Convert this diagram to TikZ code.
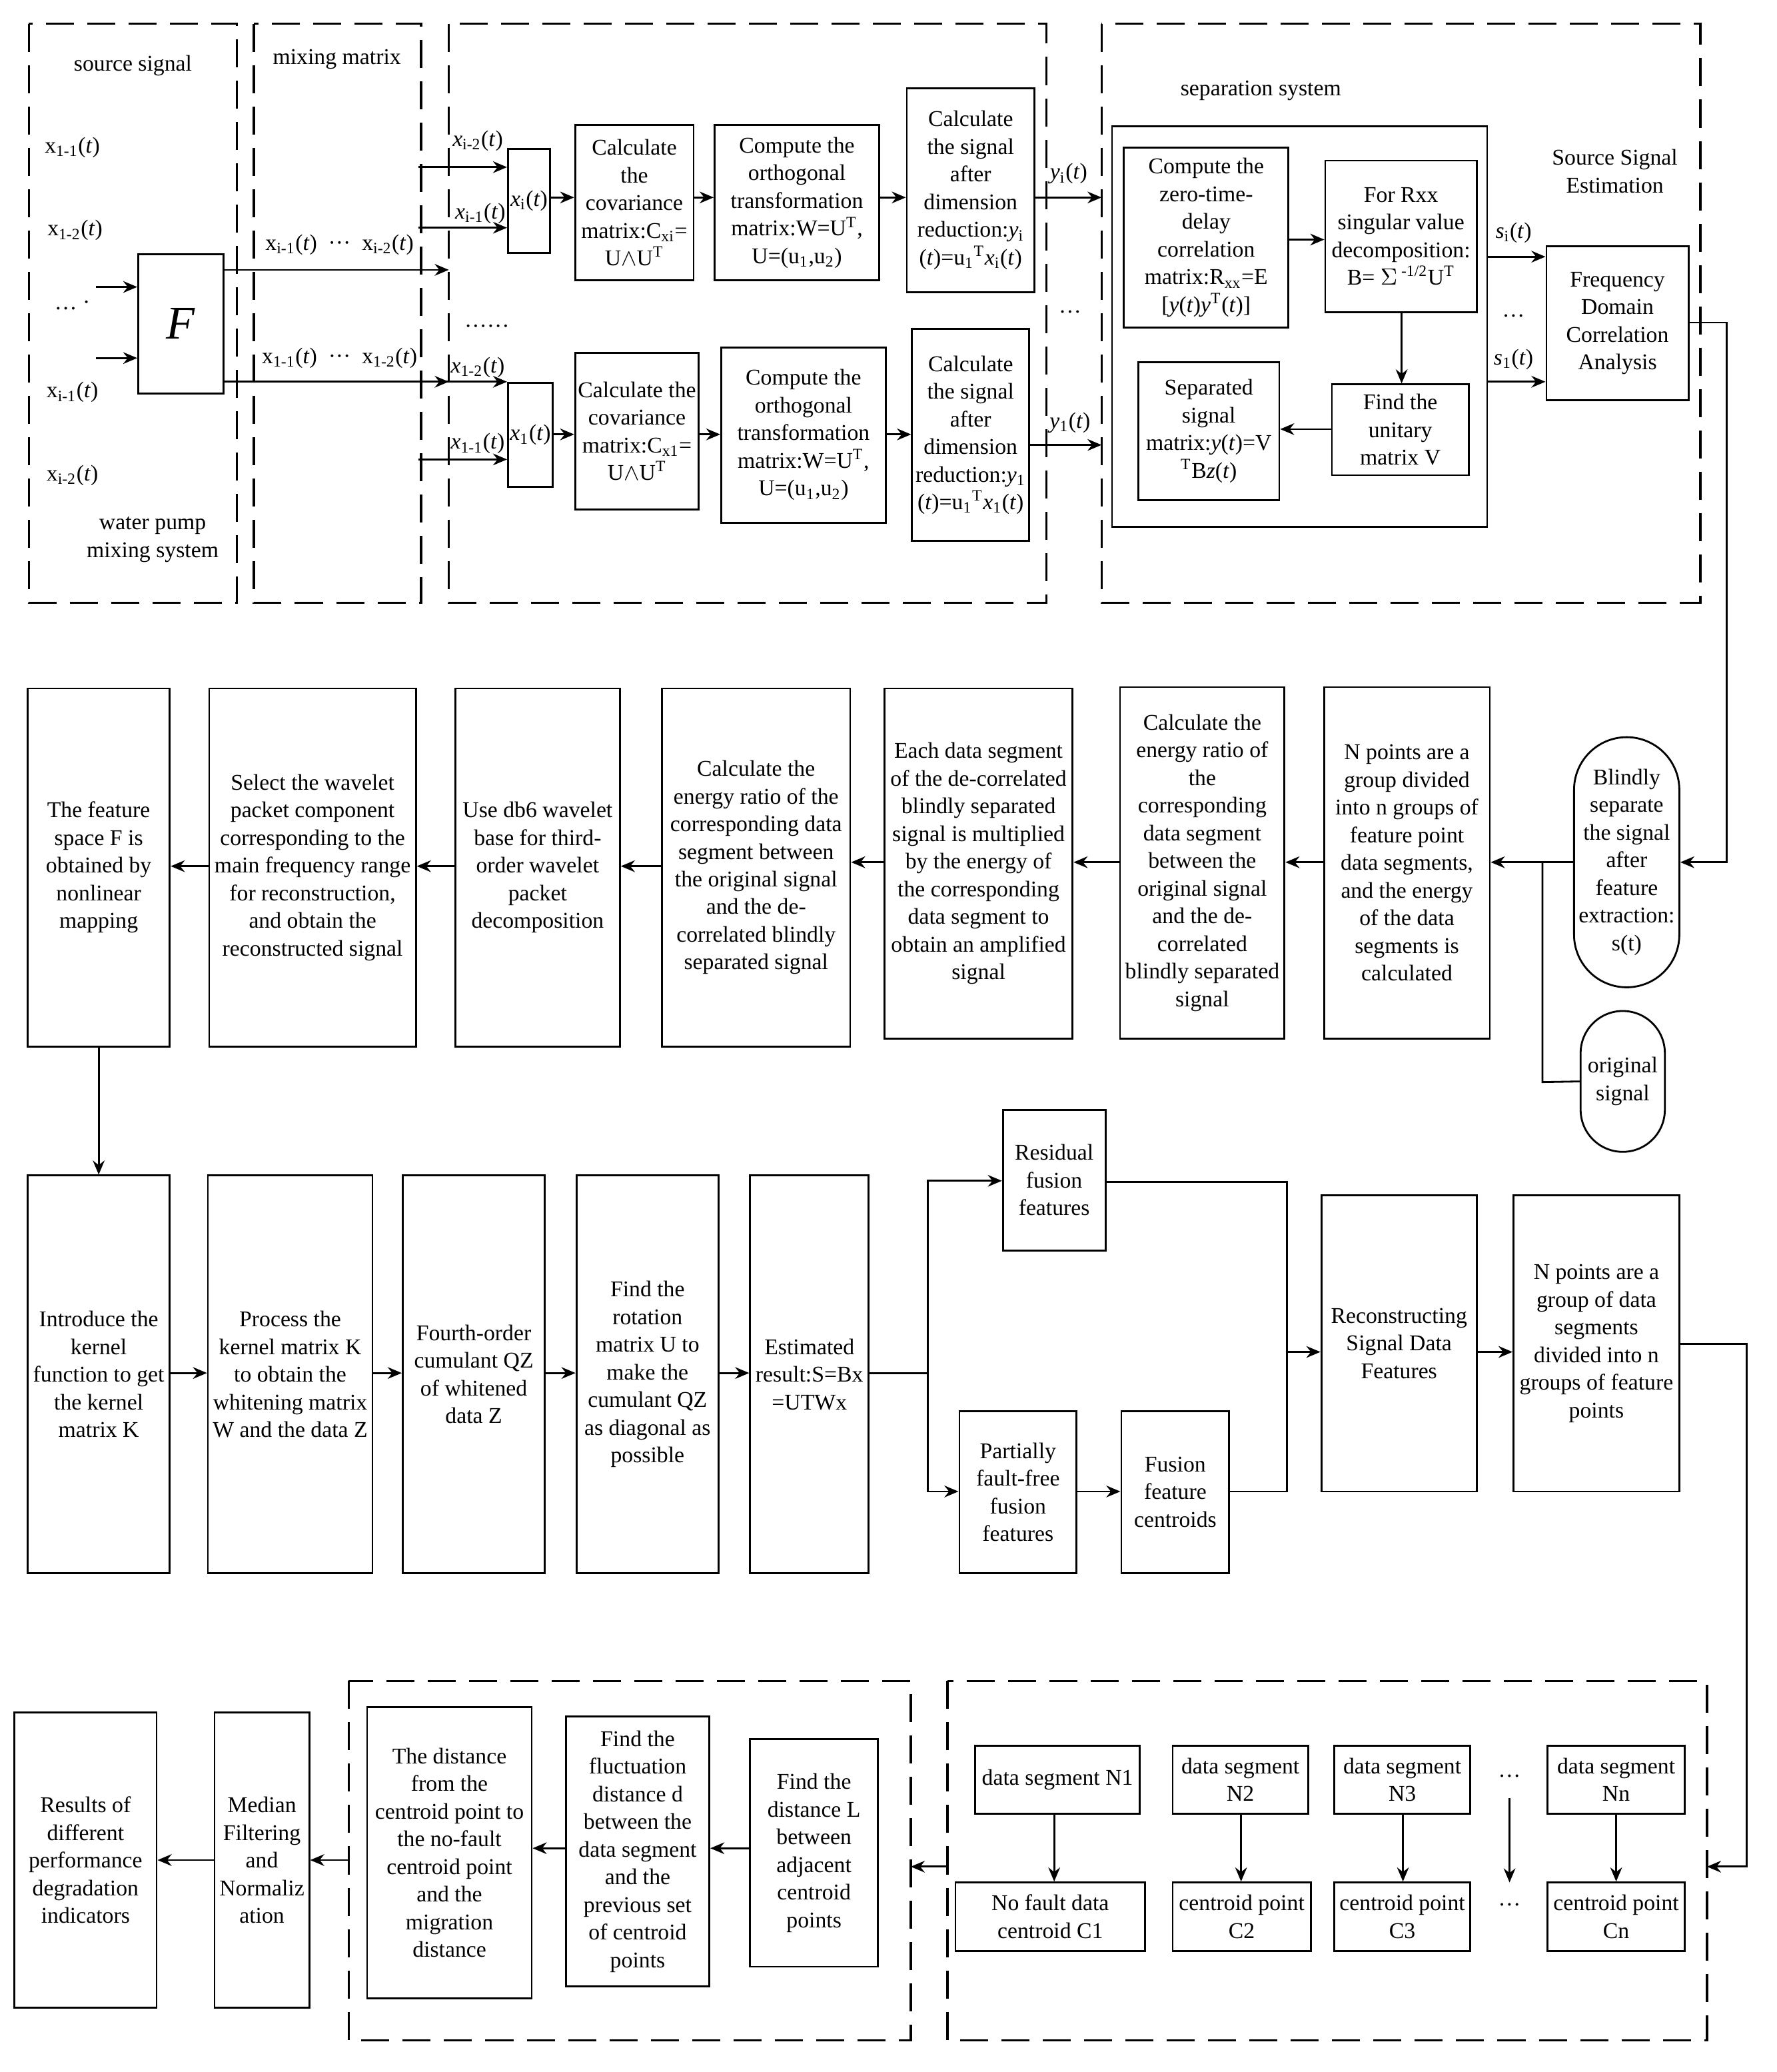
\documentclass[tikz,border=0pt]{standalone}
\usepackage{fontspec}
\setmainfont{Liberation Serif}
\usetikzlibrary{arrows.meta}
\tikzset{
 box/.style={draw,line width=0.8pt,inner sep=0pt,align=center,font=\fontsize{9.6}{11.8}\selectfont},
 dbox/.style={draw,line width=1pt,dash pattern=on 0.42cm off 0.2cm},
 ar/.style={line width=0.8pt,-{Stealth[length=6pt,width=5pt]}},
 ln/.style={line width=0.8pt},
 lb/.style={font=\fontsize{9.6}{11.8}\selectfont,inner sep=1pt,align=center}
}
\newcommand\bx[6]{\pgfmathsetmacro\bw{(#4-#2)*0.01975}\pgfmathsetmacro\bh{(#5-#3)*0.01975}%
\node[box,minimum width=\bw cm,minimum height=\bh cm] (#1) at ({(#2+#4)/2},{(#3+#5)/2}) {#6};}
\newcommand\cp[6]{\pgfmathsetmacro\bw{(#4-#2)*0.01975}\pgfmathsetmacro\bh{(#5-#3)*0.01975}%
\node[box,minimum width=\bw cm,minimum height=\bh cm,rounded corners=\bw cm/2] (#1) at ({(#2+#4)/2},{(#3+#5)/2}) {#6};}
\newcommand\st[1]{\textsubscript{#1}}
\newcommand\su[1]{\textsuperscript{#1}}
\begin{document}
\begin{tikzpicture}[x=0.01975cm,y=-0.01975cm]
\useasboundingbox (0,0) rectangle (1350,1574);
% dashed regions
\draw[dbox] (22,18) rectangle (180,458);
\draw[dbox] (193,18) rectangle (320,458);
\draw[dbox] (341,18) rectangle (795,458);
\draw[dbox] (837,18) rectangle (1292,458);
\draw[dbox] (720,1277) rectangle (1297,1550);
\draw[dbox] (265,1277) rectangle (692,1550);
% labels top-left
\node[lb] (ss) at (101,50) {source signal};
\node[lb] (mm) at (256,45) {mixing matrix};
\node[lb] (l1) at (55,112) {x\st{1-1}(\textit{t})};
\node[lb] (l2) at (57,175) {x\st{1-2}(\textit{t})};
\node[lb] (l3) at (55,232) {… ·};
\node[lb] (l4) at (55,298) {x\st{i-1}(\textit{t})};
\node[lb] (l5) at (55,361) {x\st{i-2}(\textit{t})};
\node[lb] (wp) at (116,410) {water pump\\mixing system};
\bx{F}{105}{193}{170}{299}{\fontsize{20}{20}\selectfont\textit{F}}
\coordinate (fa) at (73,218); \coordinate (fb) at (73,272);
\draw[ar] (fa) -- (fa -| F.west);
\draw[ar] (fb) -- (fb -| F.west);
\coordinate (m1) at (341,205); \coordinate (m2) at (341,290);
\draw[ar] (F.east |- m1) -- (m1);
\draw[ar] (F.east |- m2) -- (m2);
\node[lb] (t1) at (258,186) {x\st{i-1}(\textit{t})\enspace ···\enspace x\st{i-2}(\textit{t})};
\node[lb] (t2) at (258,272) {x\st{1-1}(\textit{t})\enspace ···\enspace x\st{1-2}(\textit{t})};
% upper branch
\bx{xi}{386}{113}{418}{192}{\textit{x}\st{i}(\textit{t})}
\coordinate (a1) at (318,127); \coordinate (a2) at (318,173);
\draw[ar] (a1) -- (a1 -| xi.west);
\draw[ar] (a2) -- (a2 -| xi.west);
\node[lb] (t3) at (363,107) {\textit{x}\st{i-2}(\textit{t})};
\node[lb] (t4) at (365,162) {\textit{x}\st{i-1}(\textit{t})};
\bx{cov1}{437}{95}{527}{213}{Calculate\\the\\covariance\\matrix:C\st{xi}=\\U$\wedge$U\su{T}}
\bx{ort1}{543}{95}{668}{213}{Compute the\\orthogonal\\transformation\\matrix:W=U\su{T},\\U=(u\st{1},u\st{2})}
\bx{cal1}{689}{67}{786}{222}{Calculate\\the signal\\after\\dimension\\reduction:\textit{y}\st{i}\\(\textit{t})=u\st{1}\su{T}\textit{x}\st{i}(\textit{t})}
\draw[ar] (xi.east |- 0,150) -- (cov1.west |- 0,150);
\draw[ar] (cov1.east |- 0,150) -- (ort1.west |- 0,150);
\draw[ar] (ort1.east |- 0,150) -- (cal1.west |- 0,150);
\coordinate (y1e) at (837,150);
\draw[ar] (cal1.east |- y1e) -- (y1e);
\node[lb] (t5) at (812,132) {\textit{y}\st{i}(\textit{t})};
% lower branch
\node[lb] (dots1) at (370,250) {······};
\node[lb] (dots2) at (813,237) {…};
\bx{x1}{386}{291}{420}{370}{\textit{x}\st{1}(\textit{t})}
\coordinate (b1) at (318,290); \coordinate (b2) at (318,349);
\draw[ar] (b1) -- (b1 -| x1.west);
\draw[ar] (b2) -- (b2 -| x1.west);
\node[lb] (t6) at (363,279) {\textit{x}\st{1-2}(\textit{t})};
\node[lb] (t7) at (363,337) {\textit{x}\st{1-1}(\textit{t})};
\bx{cov2}{437}{268}{531}{387}{Calculate the\\covariance\\matrix:C\st{x1}=\\U$\wedge$U\su{T}}
\bx{ort2}{548}{264}{673}{397}{Compute the\\orthogonal\\transformation\\matrix:W=U\su{T},\\U=(u\st{1},u\st{2})}
\bx{cal2}{693}{250}{782}{411}{Calculate\\the signal\\after\\dimension\\reduction:\textit{y}\st{1}\\(\textit{t})=u\st{1}\su{T}\textit{x}\st{1}(\textit{t})}
\draw[ar] (x1.east |- 0,330) -- (cov2.west |- 0,330);
\draw[ar] (cov2.east |- 0,330) -- (ort2.west |- 0,330);
\draw[ar] (ort2.east |- 0,330) -- (cal2.west |- 0,330);
\coordinate (y2e) at (837,338);
\draw[ar] (cal2.east |- y2e) -- (y2e);
\node[lb] (t8) at (813,321) {\textit{y}\st{1}(\textit{t})};
% separation system
\node[lb] (sep) at (958,69) {separation system};
\bx{inner}{845}{96}{1130}{400}{}
\bx{zt}{854}{112}{979}{249}{Compute the\\zero-time-\\delay\\correlation\\matrix:R\st{xx}=E\\{[}\textit{y}(\textit{t})\textit{y}\su{T}(\textit{t})]}
\bx{rxx}{1007}{122}{1122}{237}{For Rxx\\singular value\\decomposition:\\B= $\Sigma$\su{ -1/2}U\su{T}}
\bx{uni}{1012}{292}{1116}{361}{Find the\\unitary\\matrix V}
\bx{sp}{865}{275}{972}{380}{Separated\\signal\\matrix:\textit{y}(\textit{t})=V\\\su{T}B\textit{z}(\textit{t})}
\draw[ar] (zt.east |- 0,182) -- (rxx.west |- 0,182);
\draw[ar] (rxx.south -| 1065,0) -- (uni.north -| 1065,0);
\draw[ar] (uni.west |- 0,326) -- (sp.east |- 0,326);
\node[lb] (sse) at (1227,130) {Source Signal\\Estimation};
\bx{freq}{1175}{187}{1283}{304}{Frequency\\Domain\\Correlation\\Analysis}
\draw[ar] (inner.east |- 0,195) -- (freq.west |- 0,195);
\draw[ar] (inner.east |- 0,290) -- (freq.west |- 0,290);
\node[lb] (t9) at (1150,177) {\textit{s}\st{i}(\textit{t})};
\node[lb] (t10) at (1150,273) {\textit{s}\st{1}(\textit{t})};
\node[lb] (t11) at (1150,240) {…};
% row 2
\cp{bl}{1196}{560}{1276}{750}{Blindly\\separate\\the signal\\after\\feature\\extraction:\\s(t)}
\cp{org}{1201}{768}{1265}{875}{original\\signal}
\draw[ar] (freq.east |- 0,245) -| (1312,655) -- (bl.east |- 0,655);
\bx{B7}{1006}{522}{1132}{789}{N points are a\\group divided\\into n groups of\\feature point\\data segments,\\and the energy\\of the data\\segments is\\calculated}
\bx{B6}{851}{522}{976}{789}{Calculate the\\energy ratio of\\the\\corresponding\\data segment\\between the\\original signal\\and the de-\\correlated\\blindly separated\\signal}
\bx{B5}{672}{523}{815}{789}{Each data segment\\of the de-correlated\\blindly separated\\signal is multiplied\\by the energy of\\the corresponding\\data segment to\\obtain an amplified\\signal}
\bx{B4}{503}{523}{646}{795}{Calculate the\\energy ratio of the\\corresponding data\\segment between\\the original signal\\and the de-\\correlated blindly\\separated signal}
\bx{B3}{346}{523}{471}{795}{Use db6 wavelet\\base for third-\\order wavelet\\packet\\decomposition}
\bx{B2}{159}{523}{316}{795}{Select the wavelet\\packet component\\corresponding to the\\main frequency range\\for reconstruction,\\and obtain the\\reconstructed signal}
\bx{B1}{21}{523}{129}{795}{The feature\\space F is\\obtained by\\nonlinear\\mapping}
\draw[ar] (bl.west |- 0,655) -- (B7.east |- 0,655);
\draw[ln] (org.west) -- (1172,822) -- (1172,655);
\draw[ar] (B7.west |- 0,655) -- (B6.east |- 0,655);
\draw[ar] (B6.west |- 0,655) -- (B5.east |- 0,655);
\draw[ar] (B5.west |- 0,655) -- (B4.east |- 0,655);
\draw[ar] (B4.west |- 0,658) -- (B3.east |- 0,658);
\draw[ar] (B3.west |- 0,658) -- (B2.east |- 0,658);
\draw[ar] (B2.west |- 0,658) -- (B1.east |- 0,658);
% row 3
\bx{C1}{21}{893}{129}{1195}{Introduce the\\kernel\\function to get\\the kernel\\matrix K}
\bx{C2}{158}{893}{283}{1195}{Process the\\kernel matrix K\\to obtain the\\whitening matrix\\W and the data Z}
\bx{C3}{306}{893}{414}{1195}{Fourth-order\\cumulant QZ\\of whitened\\data Z}
\bx{C4}{438}{893}{546}{1195}{Find the\\rotation\\matrix U to\\make the\\cumulant QZ\\as diagonal as\\possible}
\bx{C5}{570}{893}{660}{1195}{Estimated\\result:S=Bx\\=UTWx}
\draw[ar] (B1.south -| 75,0) -- (C1.north -| 75,0);
\draw[ar] (C1.east |- 0,1043) -- (C2.west |- 0,1043);
\draw[ar] (C2.east |- 0,1043) -- (C3.west |- 0,1043);
\draw[ar] (C3.east |- 0,1043) -- (C4.west |- 0,1043);
\draw[ar] (C4.east |- 0,1043) -- (C5.west |- 0,1043);
\bx{res}{762}{843}{840}{950}{Residual\\fusion\\features}
\bx{par}{729}{1072}{818}{1195}{Partially\\fault-free\\fusion\\features}
\bx{fus}{852}{1072}{934}{1195}{Fusion\\feature\\centroids}
\bx{rec}{1004}{908}{1122}{1133}{Reconstructing\\Signal Data\\Features}
\bx{npt}{1150}{908}{1276}{1133}{N points are a\\group of data\\segments\\divided into n\\groups of feature\\points}
\coordinate (sp1) at (705,1043);
\draw[ln] (C5.east |- sp1) -- (sp1);
\draw[ar] (sp1) |- (res.west |- 0,897);
\draw[ar] (sp1) |- (par.west |- 0,1133);
\draw[ar] (par.east |- 0,1133) -- (fus.west |- 0,1133);
\draw[ln] (res.east |- 0,898) -| (978,1133) -- (fus.east |- 0,1133);
\draw[ar] (978,1027) -- (rec.west |- 0,1027);
\draw[ar] (rec.east |- 0,1027) -- (npt.west |- 0,1027);
\draw[ar] (npt.east |- 0,1021) -| (1327,1418) -- (1297,1418);
% row 4
\bx{n1}{741}{1326}{866}{1378}{data segment N1}
\bx{n2}{891}{1326}{994}{1378}{data segment\\N2}
\bx{n3}{1014}{1326}{1117}{1378}{data segment\\N3}
\bx{nn}{1176}{1326}{1280}{1378}{data segment\\Nn}
\bx{c1}{726}{1430}{870}{1482}{No fault data\\centroid C1}
\bx{c2}{891}{1430}{996}{1482}{centroid point\\C2}
\bx{c3}{1014}{1430}{1117}{1482}{centroid point\\C3}
\bx{cn}{1176}{1430}{1280}{1482}{centroid point\\Cn}
\node[lb] (d1) at (1147,1349) {…};
\node[lb] (d2) at (1147,1447) {…};
\draw[ar] (n1.south -| 801,0) -- (c1.north -| 801,0);
\draw[ar] (n2.south -| 943,0) -- (c2.north -| 943,0);
\draw[ar] (n3.south -| 1066,0) -- (c3.north -| 1066,0);
\draw[ar] (nn.south -| 1228,0) -- (cn.north -| 1228,0);
\draw[ar] (1147,1366) -- (1147,1430);
\draw[ar] (720,1418) -- (692,1418);
\bx{L}{570}{1321}{667}{1494}{Find the\\distance L\\between\\adjacent\\centroid\\points}
\bx{fl}{430}{1304}{539}{1509}{Find the\\fluctuation\\distance d\\between the\\data segment\\and the\\previous set\\of centroid\\points}
\bx{di}{279}{1297}{404}{1518}{The distance\\from the\\centroid point to\\the no-fault\\centroid point\\and the\\migration\\distance}
\bx{med}{163}{1301}{235}{1525}{Median\\Filtering\\and\\Normaliz\\ation}
\bx{rs}{11}{1301}{119}{1525}{Results of\\different\\performance\\degradation\\indicators}
\draw[ar] (L.west |- 0,1404) -- (fl.east |- 0,1404);
\draw[ar] (fl.west |- 0,1404) -- (di.east |- 0,1404);
\draw[ar] (265,1413) -- (med.east |- 0,1413);
\draw[ar] (med.west |- 0,1413) -- (rs.east |- 0,1413);
\end{tikzpicture}
\end{document}
